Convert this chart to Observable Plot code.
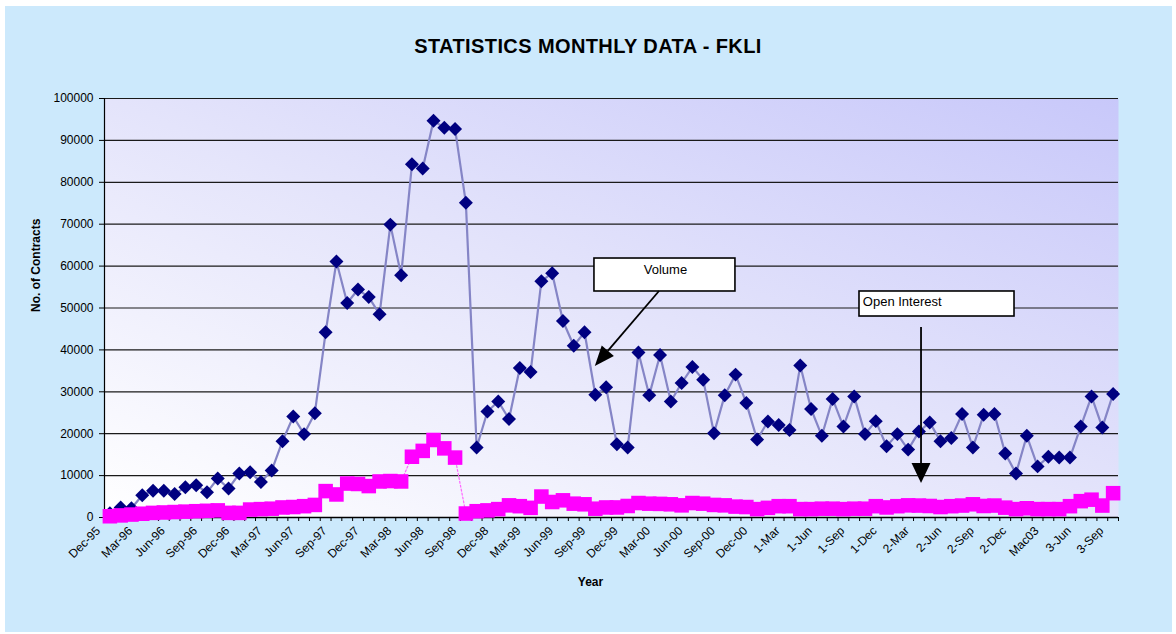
<!DOCTYPE html>
<html>
<head>
<meta charset="utf-8">
<script src="https://cdn.jsdelivr.net/npm/d3@7"></script>
<script src="https://cdn.jsdelivr.net/npm/@observablehq/plot@0.6"></script>
<style>
  body { margin: 0; background: #ffffff; }
  #wrap { position: relative; width: 1176px; height: 634px; overflow: hidden; font-family: Arial, "Liberation Sans", sans-serif; }
  #panel { position: absolute; left: 5px; top: 6px; width: 1167px; height: 626px; background: #cce9fc; }
  #title { position: absolute; left: 0; width: 1176px; top: 35px; text-align: center; font-weight: bold; font-size: 20px; letter-spacing: 0.4px; line-height: 22px; color: #000; }
  #chart { position: absolute; left: 0; top: 0; }
</style>
</head>
<body>
<div id="wrap">
  <div id="panel"></div>
  <div id="title">STATISTICS MONTHLY DATA - FKLI</div>
  <div id="chart"></div>
</div>
<script>
// Tick labels shown every third month (Dec-95 ... 3-Sep)
const tickLabels = ["Dec-95","Mar-96","Jun-96","Sep-96","Dec-96","Mar-97","Jun-97","Sep-97","Dec-97","Mar-98","Jun-98","Sep-98","Dec-98","Mar-99","Jun-99","Sep-99","Dec-99","Mar-00","Jun-00","Sep-00","Dec-00","1-Mar","1-Jun","1-Sep","1-Dec","2-Mar","2-Jun","2-Sep","2-Dec","Mac03","3-Jun","3-Sep"];

// Monthly volume (contracts), Dec-95 .. Sep-03
const volume = [1000,2400,2200,5300,6400,6400,5600,7200,7700,6000,9300,6900,10500,10800,8500,11200,18200,24100,19900,24900,44200,61100,51200,54400,52600,48500,69900,57800,84300,83300,94700,93000,92700,75100,16700,25300,27700,23500,35700,34700,56400,58300,46900,41000,44200,29300,31100,17500,16700,39400,29200,38800,27700,32100,35900,32900,20100,29200,34100,27300,18600,22900,22100,20900,36300,25900,19500,28300,21700,28900,19900,23000,17000,19900,16200,20500,22700,18200,19000,24700,16700,24500,24700,15300,10500,19500,12200,14500,14300,14300,21700,28900,21500,29500];

// Monthly open interest (contracts), Dec-95 .. Sep-03
const openInterest = [300,500,700,900,1100,1200,1300,1400,1500,1600,1700,1100,1100,1900,2000,2100,2400,2500,2700,3000,6300,5500,8100,8000,7500,8600,8700,8600,14500,15900,18500,16500,14300,950,1500,1700,2000,2900,2700,2300,5000,3700,4100,3300,3150,2100,2400,2400,2750,3450,3300,3250,3150,2900,3450,3300,3000,2900,2600,2500,2000,2300,2700,2700,2000,2000,2100,2100,2000,2100,2100,2700,2400,2700,2900,2850,2750,2500,2700,2850,3150,2750,2850,2350,2000,2200,2000,2000,2000,2700,3900,4250,2850,5800];

const yTicks = [0,10000,20000,30000,40000,50000,60000,70000,80000,90000,100000];

// Callout boxes and arrows (in category index / contract units)
const volumeCallout = {label: "Volume", x1: 44.92, x2: 57.99, y1: 61810, y2: 53940, tx: 51.5, ty: 59190};
const oiCallout = {label: "Open Interest", x1: 69.49, x2: 83.86, y1: 53940, y2: 47970, tx: 69.8, ty: 51430};
const calloutArrows = [
  {x1: 50.95, y1: 53940, x2: 45.0, y2: 36040, headLen: 20, headHalf: 8},
  {x1: 75.24, y1: 45350, x2: 75.24, y2: 8110, headLen: 20, headHalf: 9.5}
];

const n = volume.length;
const boundaries = d3.range(-0.5, n, 1);
const font = "Arial, 'Liberation Sans', sans-serif";

function arrowMark(index, scales) {
  const g = d3.create("svg:g");
  for (const a of calloutArrows) {
    const x1 = scales.x(a.x1), y1 = scales.y(a.y1), x2 = scales.x(a.x2), y2 = scales.y(a.y2);
    const ang = Math.atan2(y2 - y1, x2 - x1);
    const c = Math.cos(ang), s = Math.sin(ang);
    const bx = x2 - a.headLen * c, by = y2 - a.headLen * s;
    g.append("line").attr("x1", x1).attr("y1", y1).attr("x2", bx).attr("y2", by)
      .attr("stroke", "#000").attr("stroke-width", 1.8);
    g.append("path")
      .attr("d", `M${x2},${y2}L${bx - a.headHalf * s},${by + a.headHalf * c}L${bx + a.headHalf * s},${by - a.headHalf * c}Z`)
      .attr("fill", "#000");
  }
  return g.node();
}

const svg = Plot.plot({
  width: 1176,
  height: 634,
  marginLeft: 104,
  marginRight: 58,
  marginTop: 98,
  marginBottom: 117,
  style: {background: "transparent", fontFamily: font, fontSize: "12px", color: "#000", overflow: "visible"},
  x: {type: "linear", domain: [-0.5, n - 0.5]},
  y: {type: "linear", domain: [0, 100000]},
  marks: [
    Plot.frame({fill: "url(#plotGrad)", stroke: "none"}),
    Plot.ruleY(yTicks.filter(d => d > 0), {stroke: "#1a1a1a", strokeWidth: 1.2}),
    Plot.axisY({ticks: yTicks, tickSize: 5, tickPadding: 6, tickFormat: d => String(d), label: null, fontSize: 12}),
    Plot.axisX({ticks: boundaries, tickSize: 4, tickFormat: () => "", label: null}),
    Plot.ruleX([-0.5], {stroke: "#000", strokeWidth: 1.2}),
    Plot.ruleY([0], {stroke: "#000", strokeWidth: 1.5}),
    Plot.text(tickLabels, {x: (d, i) => i * 3, frameAnchor: "bottom", rotate: -45, textAnchor: "end", dx: -9, dy: 14, fontSize: 12, fill: "#000"}),
    Plot.text(["No. of Contracts"], {frameAnchor: "left", dx: -68, dy: 4, rotate: -90, fontWeight: "bold", fontSize: 12, fill: "#000"}),
    Plot.text(["Year"], {frameAnchor: "bottom", dx: -21, dy: 68, fontWeight: "bold", fontSize: 12, fill: "#000"}),
    // Volume series
    Plot.line(volume, {x: (d, i) => i, y: d => d, stroke: "#8585c6", strokeWidth: 2.2}),
    Plot.dot(volume, {x: (d, i) => i, y: d => d, symbol: "diamond2", r: 6.3, fill: "#000080", stroke: "none"}),
    // Open interest series
    Plot.line(openInterest, {x: (d, i) => i, y: d => d, stroke: "#ff66ff", strokeWidth: 1.2, strokeDasharray: "2,2"}),
    Plot.dot(openInterest, {x: (d, i) => i, y: d => d, symbol: "square", r: 8.2, fill: "#ff00ff", stroke: "none"}),
    // Callouts
    Plot.rect([volumeCallout, oiCallout], {x1: "x1", x2: "x2", y1: "y1", y2: "y2", fill: "#ffffff", stroke: "#000", strokeWidth: 1.6}),
    Plot.text([volumeCallout], {x: "tx", y: "ty", text: "label", textAnchor: "middle", fontSize: 13, fill: "#000"}),
    Plot.text([oiCallout], {x: "tx", y: "ty", text: "label", textAnchor: "start", fontSize: 13, fill: "#000"}),
    arrowMark
  ]
});

d3.select(svg).insert("defs", ":first-child").html(
  '<linearGradient id="plotGrad" x1="0" y1="1" x2="1" y2="0">' +
  '<stop offset="0" stop-color="#ffffff"/>' +
  '<stop offset="0.5" stop-color="#e4e4fb"/>' +
  '<stop offset="1" stop-color="#c8c8fa"/>' +
  '</linearGradient>'
);

document.getElementById("chart").appendChild(svg);
</script>
</body>
</html>
